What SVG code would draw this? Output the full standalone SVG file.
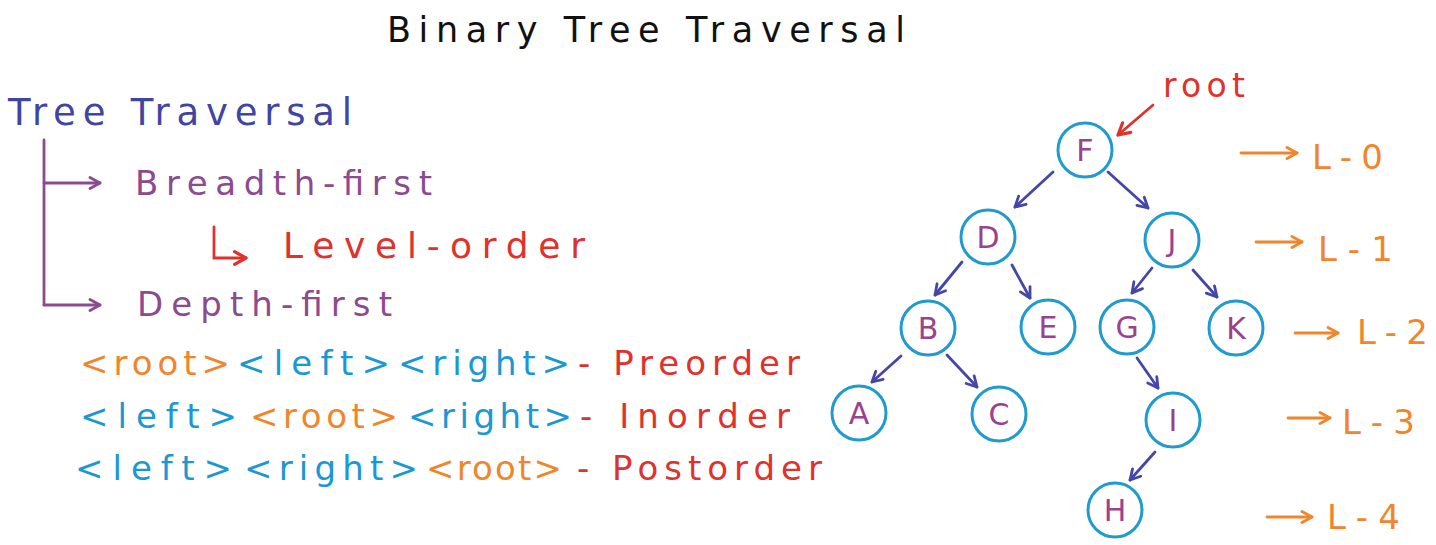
<svg xmlns="http://www.w3.org/2000/svg" width="1436" height="545" viewBox="0 0 1436 545">
<style>
  text { font-family: "DejaVu Sans", "Noto Sans", sans-serif; }
  .title { font-size: 35px; fill: #111; }
  .indigo { fill: #3f45a3; }
  .purple { fill: #8d4a8f; }
  .red { fill: #e0322c; }
  .blue { fill: #1b98d4; }
  .orange { fill: #f0862c; }
  .trav { font-size: 34px; }
  .node circle { fill: #fff; stroke: #1f9bcf; stroke-width: 3; }
  .node text { font-size: 30px; fill: #9a4290; text-anchor: middle; }
  .edge { stroke: #4646a8; stroke-width: 2.8; fill: none; stroke-linecap: round; marker-end: url(#ah-indigo); }
  .tree-line { stroke: #8d4a8f; stroke-width: 2.8; fill: none; stroke-linecap: round; }
  .lvl-arrow { stroke: #f0862c; stroke-width: 2.8; fill: none; stroke-linecap: round; marker-end: url(#ah-orange); }
  .lvl { font-size: 34px; fill: #f0862c; }
</style>
<defs>
  <marker id="ah-indigo" viewBox="0 0 14 14" refX="12" refY="7" markerWidth="14" markerHeight="14" markerUnits="userSpaceOnUse" orient="auto">
    <path d="M2,1.5 L12,7 L2,12.5" fill="none" stroke="#4646a8" stroke-width="2.8" stroke-linecap="round" stroke-linejoin="round"/>
  </marker>
  <marker id="ah-orange" viewBox="0 0 14 14" refX="12" refY="7" markerWidth="14" markerHeight="14" markerUnits="userSpaceOnUse" orient="auto">
    <path d="M2,1.5 L12,7 L2,12.5" fill="none" stroke="#f0862c" stroke-width="2.8" stroke-linecap="round" stroke-linejoin="round"/>
  </marker>
  <marker id="ah-purple" viewBox="0 0 14 14" refX="12" refY="7" markerWidth="14" markerHeight="14" markerUnits="userSpaceOnUse" orient="auto">
    <path d="M2,1.5 L12,7 L2,12.5" fill="none" stroke="#8d4a8f" stroke-width="2.8" stroke-linecap="round" stroke-linejoin="round"/>
  </marker>
  <marker id="ah-red" viewBox="0 0 14 14" refX="12" refY="7" markerWidth="16" markerHeight="16" markerUnits="userSpaceOnUse" orient="auto">
    <path d="M2,1.5 L12,7 L2,12.5" fill="none" stroke="#e0322c" stroke-width="2.8" stroke-linecap="round" stroke-linejoin="round"/>
  </marker>
</defs>
<rect width="1436" height="545" fill="#ffffff"/>

<text class="title" x="387" y="42" textLength="518" lengthAdjust="spacing">Binary Tree Traversal</text>

<!-- Left outline -->
<g id="outline">
  <text class="indigo" x="8" y="125" font-size="37" textLength="344" lengthAdjust="spacing">Tree Traversal</text>
  <path class="tree-line" d="M44,140 L44,305"/>
  <path class="tree-line" d="M44,183 L100,183" marker-end="url(#ah-purple)"/>
  <path class="tree-line" d="M44,305 L100,305" marker-end="url(#ah-purple)"/>
  <text class="purple" x="135" y="195" font-size="34" textLength="297" lengthAdjust="spacing">Breadth-first</text>
  <path d="M214,227 L214,258 L246,258" fill="none" stroke="#e0322c" stroke-width="2.8" stroke-linecap="round" marker-end="url(#ah-red)"/>
  <text class="red" x="283" y="258" font-size="36" textLength="302" lengthAdjust="spacing">Level-order</text>
  <text class="purple" x="137" y="316" font-size="34" textLength="255" lengthAdjust="spacing">Depth-first</text>
</g>

<!-- Traversal orders -->
<g id="orders">
  <text class="orange trav" x="80" y="375" textLength="150" lengthAdjust="spacing">&lt;root&gt;</text>
  <text class="blue trav" x="237" y="375" textLength="153" lengthAdjust="spacing">&lt;left&gt;</text>
  <text class="blue trav" x="398" y="375" textLength="172" lengthAdjust="spacing">&lt;right&gt;</text>
  <text class="red trav" x="578" y="375" textLength="222" lengthAdjust="spacing">- Preorder</text>

  <text class="blue trav" x="80" y="428" textLength="157" lengthAdjust="spacing">&lt;left&gt;</text>
  <text class="orange trav" x="250" y="428" textLength="148" lengthAdjust="spacing">&lt;root&gt;</text>
  <text class="blue trav" x="408" y="428" textLength="164" lengthAdjust="spacing">&lt;right&gt;</text>
  <text class="red trav" x="580" y="428" textLength="210" lengthAdjust="spacing">- Inorder</text>

  <text class="blue trav" x="75" y="480" textLength="157" lengthAdjust="spacing">&lt;left&gt;</text>
  <text class="blue trav" x="244" y="480" textLength="174" lengthAdjust="spacing">&lt;right&gt;</text>
  <text class="orange trav" x="426" y="480" textLength="136" lengthAdjust="spacing">&lt;root&gt;</text>
  <text class="red trav" x="577" y="480" textLength="245" lengthAdjust="spacing">- Postorder</text>
</g>

<!-- Connectors -->
<g id="connectors">
  <path class="edge" d="M1053,172 L1015,207"/>
  <path class="edge" d="M1108,172 L1148,208"/>
  <path class="edge" d="M962,262 L935,295"/>
  <path class="edge" d="M1012,265 L1030,298"/>
  <path class="edge" d="M1152,268 L1132,293"/>
  <path class="edge" d="M1193,270 L1217,297"/>
  <path class="edge" d="M901,356 L872,382"/>
  <path class="edge" d="M947,355 L977,387"/>
  <path class="edge" d="M1137,358 L1158,388"/>
  <path class="edge" d="M1155,452 L1130,480"/>
  <path d="M1153,105 L1118,135" fill="none" stroke="#e0322c" stroke-width="2.8" stroke-linecap="round" marker-end="url(#ah-red)"/>
  <path class="lvl-arrow" d="M1241,153 L1297,153"/>
  <path class="lvl-arrow" d="M1256,242 L1302,242"/>
  <path class="lvl-arrow" d="M1295,333 L1338,333"/>
  <path class="lvl-arrow" d="M1288,418 L1330,418"/>
  <path class="lvl-arrow" d="M1267,517 L1312,517"/>
</g>

<text class="red" x="1163" y="97" font-size="33" textLength="82" lengthAdjust="spacing">root</text>

<!-- Nodes -->
<g id="node-F" class="node"><circle cx="1085" cy="150" r="27"/><text x="1085" y="161">F</text></g>
<g id="node-D" class="node"><circle cx="988" cy="237" r="27"/><text x="988" y="248">D</text></g>
<g id="node-J" class="node"><circle cx="1172" cy="240" r="27"/><text x="1172" y="251">J</text></g>
<g id="node-B" class="node"><circle cx="928" cy="328" r="27"/><text x="928" y="339">B</text></g>
<g id="node-E" class="node"><circle cx="1048" cy="327" r="27"/><text x="1048" y="338">E</text></g>
<g id="node-G" class="node"><circle cx="1127" cy="327" r="27"/><text x="1127" y="338">G</text></g>
<g id="node-K" class="node"><circle cx="1236" cy="328" r="27"/><text x="1236" y="339">K</text></g>
<g id="node-A" class="node"><circle cx="859" cy="413" r="27"/><text x="859" y="424">A</text></g>
<g id="node-C" class="node"><circle cx="999" cy="414" r="27"/><text x="999" y="425">C</text></g>
<g id="node-I" class="node"><circle cx="1173" cy="420" r="27"/><text x="1173" y="431">I</text></g>
<g id="node-H" class="node"><circle cx="1115" cy="510" r="27"/><text x="1115" y="521">H</text></g>

<!-- Level labels -->
<g id="levels">
  <text class="lvl" x="1312" y="169" textLength="71" lengthAdjust="spacing">L-0</text>
  <text class="lvl" x="1318" y="261" textLength="75" lengthAdjust="spacing">L-1</text>
  <text class="lvl" x="1357" y="344" textLength="71" lengthAdjust="spacing">L-2</text>
  <text class="lvl" x="1342" y="434" textLength="73" lengthAdjust="spacing">L-3</text>
  <text class="lvl" x="1327" y="529" textLength="73" lengthAdjust="spacing">L-4</text>
</g>
</svg>
